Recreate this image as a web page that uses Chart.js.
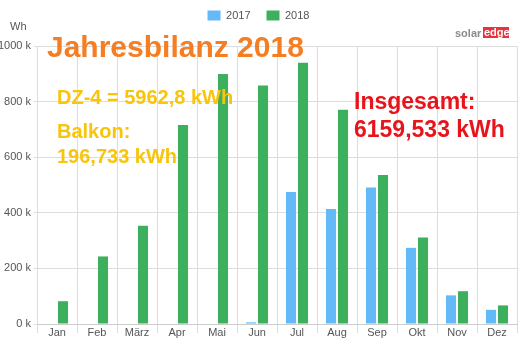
<!DOCTYPE html>
<html>
<head>
<meta charset="utf-8">
<script src="https://cdn.jsdelivr.net/npm/chart.js@4"></script>
<style>
  html, body { margin: 0; padding: 0; background: #fff; }
  #wrap { width: 520px; height: 345px; position: relative; }
</style>
</head>
<body>
<div id="wrap"><canvas id="energy"></canvas></div>
<script>
// monthly production, in thousands of Wh (k)
var months = ['Jan', 'Feb', 'März', 'Apr', 'Mai', 'Jun', 'Jul', 'Aug', 'Sep', 'Okt', 'Nov', 'Dez'];
var yield2017 = [0, 0, 0, 0, 0, 6, 475, 414, 491, 274, 103, 51];
var yield2018 = [82, 243, 353, 716, 899, 858, 940, 771, 536, 311, 118, 67];
var yTicks = [0, 200, 400, 600, 800, 1000];

var blue = '#64b9f8';
var green = '#3cb05c';
var gridColor = '#dddddd';
var textColor = '#555555';

// chart area should start at y=46, whatever the legend needs
var legendGap = {
  id: 'legendGap',
  beforeInit: function(chart) {
    var fit = chart.legend.fit;
    chart.legend.fit = function() {
      fit.call(this);
      this.height = 52;
    };
  }
};

// the big annotations pasted on top of the screenshot
var overlayText = {
  id: 'overlayText',
  afterDraw: function(chart) {
    var ctx = chart.ctx;
    ctx.save();
    ctx.textBaseline = 'alphabetic';
    ctx.textAlign = 'left';

    ctx.fillStyle = textColor;
    ctx.font = '11px "Liberation Sans", Arial, sans-serif';
    ctx.fillText('Wh', 10, 30);

    ctx.fillStyle = '#f57d22';
    ctx.font = 'bold 30px "Liberation Sans", Arial, sans-serif';
    ctx.fillText('Jahresbilanz 2018', 47, 57);

    ctx.fillStyle = '#f8c40c';
    ctx.font = 'bold 20px "Liberation Sans", Arial, sans-serif';
    ctx.fillText('DZ-4 = 5962,8 kWh', 57, 104);
    ctx.fillText('Balkon:', 57, 138);
    ctx.fillText('196,733 kWh', 57, 163);

    ctx.fillStyle = '#e8141c';
    ctx.font = 'bold 23px "Liberation Sans", Arial, sans-serif';
    ctx.fillText('Insgesamt:', 354, 109);
    ctx.fillText('6159,533 kWh', 354, 137);

    // solaredge logo
    ctx.fillStyle = '#8a8a8a';
    ctx.font = 'bold 11px "Liberation Sans", Arial, sans-serif';
    ctx.fillText('solar', 455, 37);
    ctx.fillStyle = '#e8323c';
    ctx.fillRect(483, 27, 26, 11);
    ctx.fillStyle = '#ffffff';
    ctx.fillText('edge', 484, 36);
    ctx.restore();
  }
};

new Chart(document.getElementById('energy'), {
  type: 'bar',
  data: {
    labels: months,
    datasets: [
      {
        label: '2017',
        data: yield2017,
        backgroundColor: blue,
        borderWidth: 0,
        categoryPercentage: 0.6,
        barPercentage: 0.84
      },
      {
        label: '2018',
        data: yield2018,
        backgroundColor: green,
        borderWidth: 0,
        categoryPercentage: 0.6,
        barPercentage: 0.84
      }
    ]
  },
  options: {
    responsive: true,
    maintainAspectRatio: false,
    animation: false,
    layout: {
      padding: { left: 0, right: 3, top: -6, bottom: 0 }
    },
    plugins: {
      tooltip: { enabled: false },
      legend: {
        position: 'top',
        labels: {
          boxWidth: 13,
          boxHeight: 10,
          padding: 16,
          color: textColor,
          font: { size: 11, family: '"Liberation Sans", Arial, sans-serif' }
        }
      }
    },
    scales: {
      x: {
        grid: { color: gridColor, offset: true, tickLength: 9 },
        border: { color: '#cccccc' },
        ticks: {
          color: textColor,
          padding: -7,
          font: { size: 11, family: '"Liberation Sans", Arial, sans-serif' }
        },
        afterFit: function(s) { s.height = 21; }
      },
      y: {
        min: 0,
        max: 1000,
        afterBuildTicks: function(s) {
          s.ticks = yTicks.map(function(v) { return { value: v }; });
        },
        grid: { color: gridColor, tickLength: 3 },
        border: { color: gridColor },
        ticks: {
          color: textColor,
          padding: 3,
          font: { size: 11, family: '"Liberation Sans", Arial, sans-serif' },
          callback: function(value) { return value + ' k'; }
        },
        afterFit: function(s) { s.width = 37; }
      }
    }
  },
  plugins: [legendGap, overlayText]
});
</script>
</body>
</html>
